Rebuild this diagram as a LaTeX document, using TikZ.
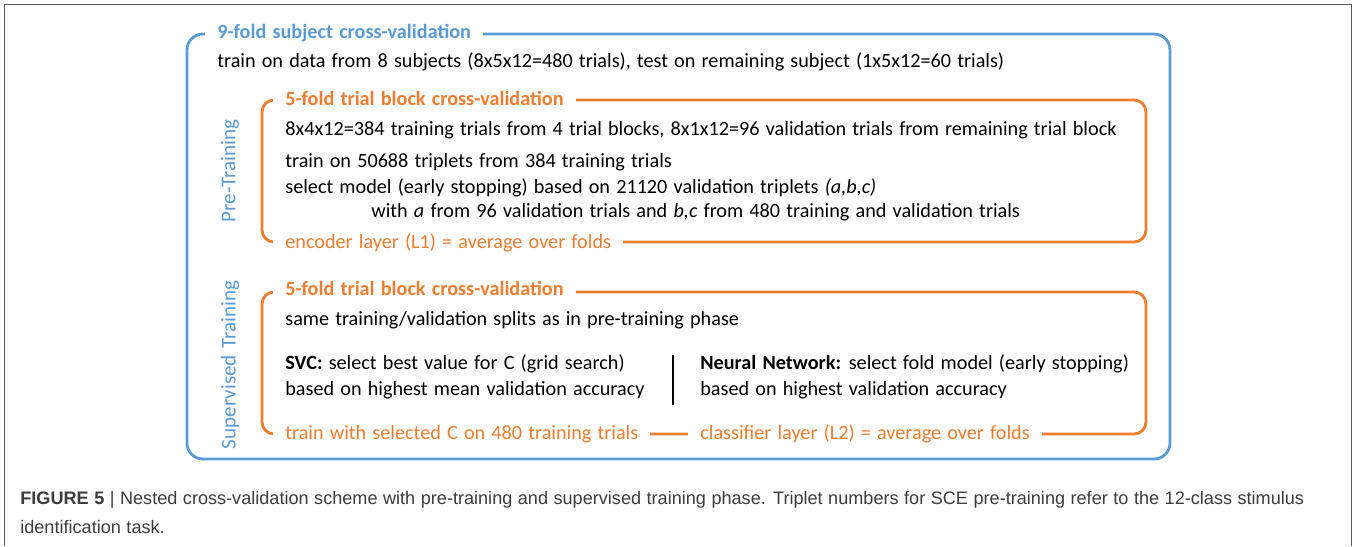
\documentclass[tikz,border=0pt]{standalone}
\usepackage{fontspec}
\setmainfont{Carlito}[WordSpace=1.35]
\newfontfamily\capfont{Liberation Sans}[WordSpace=1.1]
\usetikzlibrary{positioning}
\definecolor{CVBlue}{HTML}{5B9BD5}
\definecolor{CVOrange}{HTML}{ED7D31}
\definecolor{CVFrame}{HTML}{5A5A5A}
\definecolor{CVCaption}{HTML}{3C3C3C}
\tikzset{
  frame/.style={CVFrame,line width=0.5pt},
  outerbox/.style={draw=CVBlue,line width=1.6pt,rounded corners=3.2mm},
  innerbox/.style={draw=CVOrange,line width=1.6pt,rounded corners=2.4mm},
  body/.style={anchor=base west,inner sep=0pt,text=black,
               font=\fontsize{11.5}{13.5}\selectfont},
  head/.style={anchor=base west,fill=white,inner xsep=2.4mm,inner ysep=2pt,
               xshift=-2.4mm,font=\fontsize{11.5}{13.5}\selectfont\bfseries},
  headblue/.style={head,text=CVBlue},
  headorange/.style={head,text=CVOrange},
  footorange/.style={head,text=CVOrange,font=\fontsize{11.5}{13.5}\selectfont},
  sidelabel/.style={rotate=90,inner sep=0pt,text=CVBlue,
                    font=\fontsize{12}{14}\selectfont},
  divider/.style={black,line width=1.3pt},
  capline/.style={anchor=base west,inner sep=0pt,text=CVCaption,
                  font=\capfont\fontsize{10.3}{12}\selectfont},
}
\begin{document}
\begin{tikzpicture}[x=0.2mm,y=-0.2mm]
  \useasboundingbox (0,0) rectangle (1354,546);
  \draw[frame] (4,546) -- (4,4) -- (1351,4) -- (1351,546);

  % subject level
  \draw[outerbox] (187,34) rectangle (1170,459);
  \node[headblue] (subjcv) at (217,38) {9-fold subject cross-validation};
  \node[body] (subjsplit) at (217,67)
    {train on data from 8 subjects (8x5x12=480 trials), test on remaining subject (1x5x12=60 trials)};

  % pre-training phase
  \draw[innerbox] (262,100) rectangle (1146,242);
  \node[headorange] (precv) at (285,105) {5-fold trial block cross-validation};
  \node[body] (presplit) at (285,135)
    {8x4x12=384 training trials from 4 trial blocks, 8x1x12=96 validation trials from remaining trial block};
  \node[body] (pretrain) at (285,167) {train on 50688 triplets from 384 training trials};
  \node[body] (preselect) at (285,193)
    {select model (early stopping) based on 21120 validation triplets \textit{(a,b,c)}};
  \node[body] (pretrip) at (371,217)
    {with \textit{a} from 96 validation trials and \textit{b,c} from 480 training and validation trials};
  \node[footorange] (preavg) at (285,248) {encoder layer (L1) = average over folds};
  \node[sidelabel] (prelabel) at (230,171) {Pre-Training};

  % supervised phase
  \draw[innerbox] (262,292) rectangle (1146,434);
  \node[headorange] (supcv) at (285,295) {5-fold trial block cross-validation};
  \node[body] (supsplit) at (285,325) {same training/validation splits as in pre-training phase};
  \node[body] (svcsel) at (285,369) {\textbf{SVC:} select best value for C (grid search)};
  \node[body] (svcacc) at (285,395) {based on highest mean validation accuracy};
  \node[body] (nnsel) at (700,369) {\textbf{Neural Network:} select fold model (early stopping)};
  \node[body] (nnacc) at (700,395) {based on highest validation accuracy};
  \coordinate (divtop) at (673,355);
  \coordinate (divbot) at (673,405);
  \draw[divider] (divtop) -- (divbot);
  \node[footorange] (svcfinal) at (285,439) {train with selected C on 480 training trials};
  \node[footorange] (supavg) at (700,439) {classifier layer (L2) = average over folds};
  \node[sidelabel] (suplabel) at (230,365) {Supervised Training};

  % caption
  \node[capline] (cap1) at (20,504)
    {\textbf{FIGURE 5} | Nested cross-validation scheme with pre-training and supervised training phase. Triplet numbers for SCE pre-training refer to the 12-class stimulus};
  \node[capline] (cap2) at (20,533) {identification task.};
\end{tikzpicture}
\end{document}
